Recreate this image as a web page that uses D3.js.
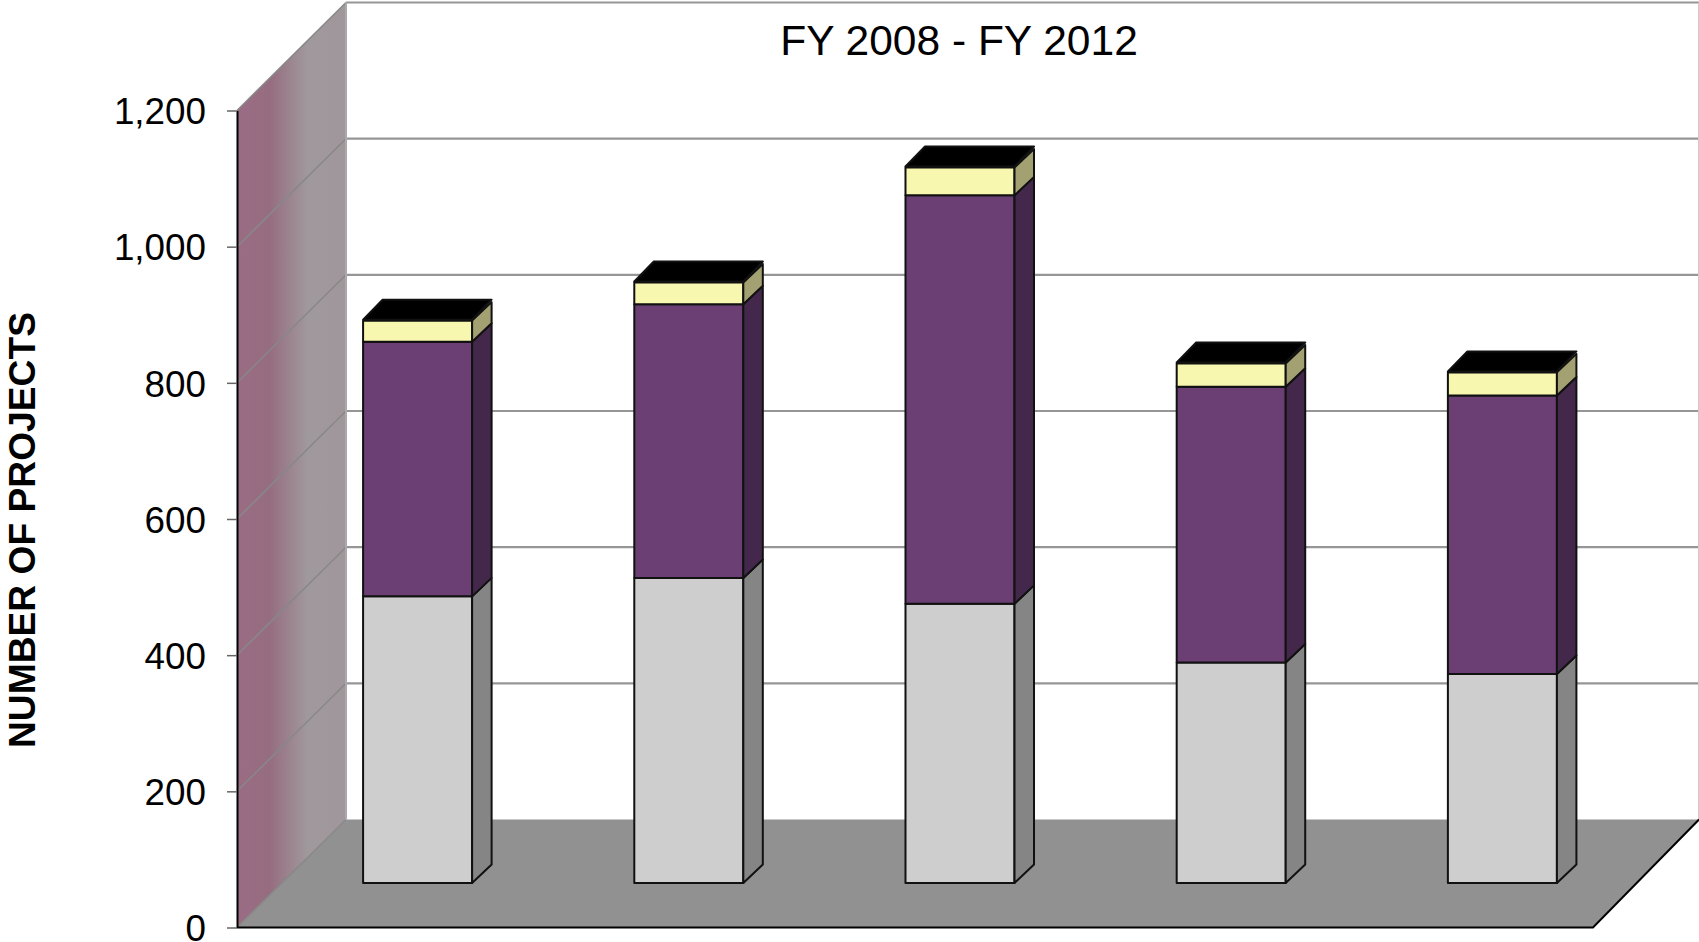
<!DOCTYPE html>
<html>
<head>
<meta charset="utf-8">
<script src="https://cdn.jsdelivr.net/npm/d3@7"></script>
<style>
  html, body { margin: 0; padding: 0; background: #fff; overflow: hidden; }
  text { font-family: "Liberation Sans", Arial, sans-serif; fill: #000; }
</style>
</head>
<body>
<div id="chart"></div>
<script>
// values
const years = ["FY 2008", "FY 2009", "FY 2010", "FY 2011", "FY 2012"];
const grayValues = [421, 448, 410, 324, 307];
const purpleValues = [374, 402, 600, 405, 409];
const yellowValues = [31, 32, 41, 34, 34];
const tickValues = [0, 200, 400, 600, 800, 1000, 1200];

const width = 1699, height = 942;
const margin = { top: 110.5, right: 1593, bottom: 927.5, left: 237 };

// 3d offsets : back wall, plane of the bars, thickness of the bars
const wall = { dx: 109, dy: 108 };
const plane = { dx: 45, dy: 44.5 };
const side = { dx: 19.5, dy: 18.5, lid: 21 };

const svg = d3.select("#chart").append("svg")
  .attr("width", width)
  .attr("height", height)
  .style("display", "block");

const y = d3.scaleLinear().domain([0, 1200]).range([margin.bottom, margin.top]);
const x = d3.scaleBand().domain(years).range([margin.left, margin.right])
  .paddingInner(0.598).paddingOuter(0.299);

const poly = pts => pts.map(p => p.join(",")).join(" ");

// left wall gradient
const grad = svg.append("defs").append("linearGradient")
  .attr("id", "wallGrad")
  .attr("x1", 0).attr("x2", 1).attr("y1", 0).attr("y2", 0);
grad.append("stop").attr("offset", "0%").attr("stop-color", "#9a6c84");
grad.append("stop").attr("offset", "30%").attr("stop-color", "#966d80");
grad.append("stop").attr("offset", "65%").attr("stop-color", "#a0999c");
grad.append("stop").attr("offset", "100%").attr("stop-color", "#a0969b");

svg.append("polygon")
  .attr("points", poly([
    [margin.left, y(0)], [margin.left, y(1200)],
    [margin.left + wall.dx, y(1200) - wall.dy], [margin.left + wall.dx, y(0) - wall.dy]
  ]))
  .attr("fill", "url(#wallGrad)");

// floor
svg.append("polygon")
  .attr("points", poly([
    [margin.left, y(0)], [margin.left + wall.dx, y(0) - wall.dy],
    [width, y(0) - wall.dy], [margin.right, y(0)]
  ]))
  .attr("fill", "#919191");

// gridlines on the back wall and their continuation on the left wall
const grid = svg.append("g").attr("stroke", "#969696").attr("fill", "none");
grid.selectAll("line.back")
  .data(tickValues.slice(1))
  .enter().append("line")
  .attr("class", "back")
  .attr("x1", margin.left + wall.dx).attr("x2", width)
  .attr("y1", d => y(d) - wall.dy).attr("y2", d => y(d) - wall.dy)
  .attr("stroke-width", 2.2);
grid.selectAll("line.diag")
  .data(tickValues)
  .enter().append("line")
  .attr("class", "diag")
  .attr("x1", margin.left).attr("x2", margin.left + wall.dx)
  .attr("y1", d => y(d)).attr("y2", d => y(d) - wall.dy)
  .attr("stroke", "#888")
  .attr("stroke-width", 1.5);
grid.append("line")
  .attr("x1", margin.left + wall.dx).attr("x2", margin.left + wall.dx)
  .attr("y1", y(1200) - wall.dy).attr("y2", y(0) - wall.dy)
  .attr("stroke", "#aaa").attr("stroke-width", 2);
grid.append("line")
  .attr("x1", width - 0.5).attr("x2", width - 0.5)
  .attr("y1", y(1200) - wall.dy).attr("y2", y(0) - wall.dy)
  .attr("stroke", "#ccc").attr("stroke-width", 1);

// floor edges
svg.append("polyline")
  .attr("points", poly([[margin.left, y(0)], [margin.right, y(0)], [width, y(0) - wall.dy]]))
  .attr("fill", "none")
  .attr("stroke", "#000")
  .attr("stroke-width", 2);

// stacked bars
const stack = d3.stack().keys(["gray", "purple", "yellow"]);
const rows = years.map((d, i) => ({
  year: d, gray: grayValues[i], purple: purpleValues[i], yellow: yellowValues[i]
}));
const faces = {
  gray: { front: "#cecece", side: "#858585" },
  purple: { front: "#6b3f74", side: "#44284b" },
  yellow: { front: "#f8f7b0", side: "#a3a172" }
};

const bars = svg.append("g")
  .attr("stroke", "#111")
  .attr("stroke-width", 2)
  .attr("stroke-linejoin", "round");

stack(rows).forEach(function (layer) {
  const g = bars.append("g");
  const col = faces[layer.key];
  layer.forEach(function (d) {
    const x0 = x(d.data.year) + plane.dx;
    const x1 = x0 + x.bandwidth();
    const y0 = y(d[0]) - plane.dy;
    const y1 = y(d[1]) - plane.dy;
    g.append("rect")
      .attr("x", x0).attr("y", y1)
      .attr("width", x.bandwidth())
      .attr("height", y0 - y1)
      .attr("fill", col.front);
    g.append("polygon")
      .attr("points", poly([
        [x1, y0], [x1, y1],
        [x1 + side.dx, y1 - side.dy], [x1 + side.dx, y0 - side.dy]
      ]))
      .attr("fill", col.side);
    if (layer.key === "yellow") {
      // the lid is a bit taller than the side faces in the original
      g.append("polygon")
        .attr("points", poly([
          [x0, y1 - 1], [x1, y1 - 1],
          [x1 + side.dx, y1 - side.lid], [x0 + side.dx, y1 - side.lid]
        ]))
        .attr("fill", "#000");
    }
  });
});

// y axis
const axis = svg.append("g")
  .attr("transform", "translate(" + margin.left + ",0)")
  .call(d3.axisLeft(y)
    .tickValues(tickValues)
    .tickFormat(d3.format(","))
    .tickSize(10)
    .tickSizeOuter(0)
    .tickPadding(21));
axis.attr("font-family", null).attr("font-size", null);
axis.select(".domain").attr("stroke", "#000").attr("stroke-width", 2);
axis.selectAll(".tick line").attr("stroke", "#666").attr("stroke-width", 1.5);
axis.selectAll(".tick text").attr("font-size", "36.8px").attr("dy", "0.36em");

svg.append("text")
  .attr("x", 959)
  .attr("y", 55)
  .attr("text-anchor", "middle")
  .attr("font-size", "42.5px")
  .text("FY 2008 - FY 2012");

svg.append("text")
  .attr("transform", "translate(35,530) rotate(-90)")
  .attr("text-anchor", "middle")
  .attr("font-size", "37.2px")
  .attr("font-weight", "bold")
  .text("NUMBER OF PROJECTS");
</script>
</body>
</html>
